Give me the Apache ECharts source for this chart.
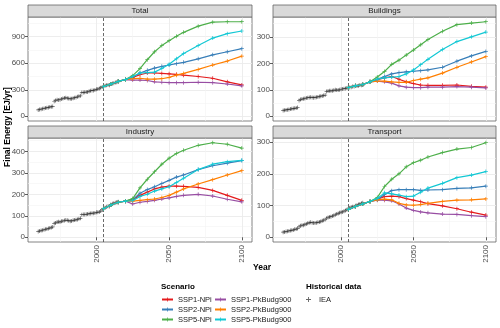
<!DOCTYPE html>
<html>
<head>
<meta charset="utf-8">
<script src="https://cdn.jsdelivr.net/npm/echarts@6/dist/echarts.min.js"></script>
<style>
  html, body { margin: 0; padding: 0; background: #fff; }
  #chart { width: 500px; height: 328px; }
</style>
</head>
<body>
<div id="chart"></div>
<script>
// ---------- data ----------
const scenarioYears = [2005, 2010, 2015, 2020, 2025, 2030, 2035, 2040, 2045, 2050, 2055, 2060, 2070, 2080, 2090, 2100];
const histYears = [1960, 1961, 1962, 1963, 1964, 1965, 1966, 1967, 1968, 1969,
  1970, 1971, 1972, 1973, 1974, 1975, 1976, 1977, 1978, 1979,
  1980, 1981, 1982, 1983, 1984, 1985, 1986, 1987, 1988, 1989,
  1990, 1991, 1992, 1993, 1994, 1995, 1996, 1997, 1998, 1999,
  2000, 2001, 2002, 2003, 2004, 2005, 2006, 2007, 2008, 2009,
  2010, 2011, 2012, 2013, 2014, 2015];

const scenarios = ['SSP1-NPi', 'SSP1-PkBudg900', 'SSP2-NPi', 'SSP2-PkBudg900', 'SSP5-NPi', 'SSP5-PkBudg900'];
const scenarioColors = ['#e41a1c', '#984ea3', '#377eb8', '#ff7f00', '#4daf4a', '#12c8d4'];
const sectors = ['Total', 'Buildings', 'Industry', 'Transport'];

// Total [EJ/yr]
const totalSSP1NPi = [335, 365, 395, 415, 440, 470, 490, 490, 485, 480, 475, 465, 450, 430, 390, 355];
const totalSSP1Pk  = [335, 365, 395, 415, 410, 410, 405, 390, 385, 380, 380, 380, 385, 380, 365, 345];
const totalSSP2NPi = [335, 365, 395, 415, 445, 490, 520, 545, 565, 580, 595, 610, 650, 695, 730, 765];
const totalSSP2Pk  = [335, 365, 395, 415, 425, 430, 420, 420, 425, 440, 465, 485, 530, 580, 625, 680];
const totalSSP5NPi = [335, 365, 395, 415, 460, 540, 640, 730, 800, 855, 905, 950, 1020, 1065, 1070, 1070];
const totalSSP5Pk  = [335, 365, 395, 415, 450, 490, 495, 500, 540, 590, 650, 710, 800, 885, 935, 965];
const totalHist = [72, 76, 80, 85, 89, 93, 97, 100, 104, 108,
  112, 170, 178, 186, 185, 187, 195, 200, 206, 210,
  205, 200, 197, 198, 205, 210, 213, 220, 227, 232,
  268, 270, 272, 274, 276, 283, 290, 292, 293, 298,
  305, 308, 315, 323, 332, 338, 345, 352, 355, 352,
  365, 370, 375, 382, 386, 390];

// Buildings
const bldSSP1NPi = [108, 115, 120, 130, 138, 145, 150, 140, 130, 123, 118, 117, 117, 118, 113, 110];
const bldSSP1Pk  = [108, 115, 120, 130, 133, 130, 125, 115, 110, 108, 108, 110, 110, 112, 110, 107];
const bldSSP2NPi = [108, 115, 120, 130, 140, 150, 160, 165, 168, 170, 172, 175, 185, 208, 228, 245];
const bldSSP2Pk  = [108, 115, 120, 130, 133, 133, 130, 128, 128, 135, 140, 145, 163, 185, 205, 225];
const bldSSP5NPi = [108, 115, 120, 130, 148, 169, 196, 212, 231, 250, 270, 290, 321, 346, 352, 357];
const bldSSP5Pk  = [108, 115, 120, 130, 140, 145, 148, 150, 160, 175, 195, 215, 252, 282, 300, 318];
const bldHist = [22, 23, 24, 25, 26, 27, 28, 29, 30, 31,
  33, 60, 63, 65, 66, 67, 69, 70, 71, 72,
  71, 70, 71, 72, 73, 75, 76, 77, 78, 80,
  94, 95, 96, 96, 96, 98, 100, 99, 99, 100,
  102, 103, 104, 105, 107, 108, 109, 110, 112, 112,
  115, 114, 115, 118, 117, 118];

// Industry
const indSSP1NPi = [133, 150, 163, 168, 175, 195, 210, 225, 233, 238, 238, 237, 232, 218, 195, 172];
const indSSP1Pk  = [133, 150, 163, 168, 155, 163, 167, 172, 178, 183, 190, 195, 200, 192, 177, 165];
const indSSP2NPi = [133, 150, 163, 168, 175, 205, 222, 235, 250, 265, 280, 290, 315, 333, 345, 357];
const indSSP2Pk  = [133, 150, 163, 168, 168, 172, 175, 178, 185, 195, 210, 225, 248, 268, 290, 310];
const indSSP5NPi = [133, 150, 163, 168, 180, 230, 270, 305, 340, 368, 390, 405, 428, 440, 433, 415];
const indSSP5Pk  = [133, 150, 163, 168, 170, 190, 200, 215, 225, 235, 255, 275, 315, 340, 352, 358];
const indHist = [27, 29, 31, 33, 35, 37, 39, 41, 43, 45,
  48, 64, 67, 71, 72, 71, 74, 76, 78, 80,
  79, 77, 75, 76, 79, 80, 81, 83, 86, 88,
  105, 106, 106, 107, 108, 110, 111, 112, 112, 113,
  116, 116, 118, 122, 128, 132, 137, 142, 144, 143,
  152, 156, 158, 161, 163, 165];

// Transport
const traSSP1NPi = [88, 97, 105, 113, 120, 128, 130, 128, 122, 117, 112, 106, 99, 90, 79, 70];
const traSSP1Pk  = [88, 97, 105, 113, 117, 117, 115, 105, 92, 85, 80, 77, 73, 72, 68, 65];
const traSSP2NPi = [88, 97, 105, 113, 118, 135, 147, 150, 150, 150, 148, 149, 150, 154, 156, 161];
const traSSP2Pk  = [88, 97, 105, 113, 118, 120, 118, 107, 102, 101, 103, 107, 113, 117, 118, 121];
const traSSP5NPi = [88, 97, 105, 113, 125, 160, 183, 200, 222, 235, 243, 253, 267, 278, 283, 298];
const traSSP5Pk  = [88, 97, 105, 113, 122, 140, 137, 133, 128, 130, 142, 155, 170, 188, 196, 207];
const traHist = [16, 17, 18, 19, 20, 21, 22, 23, 25, 26,
  28, 33, 36, 38, 38, 40, 42, 44, 46, 47,
  46, 45, 45, 46, 47, 48, 50, 52, 54, 56,
  60, 62, 64, 65, 67, 69, 71, 73, 75, 77,
  79, 80, 82, 84, 87, 89, 92, 95, 96, 96,
  99, 101, 103, 105, 107, 109];

// tick values
const xMajor = [2000, 2050, 2100];
const xMinor = [1975, 2025, 2075];
const totalMajor = [0, 300, 600, 900];
const totalMinor = [150, 450, 750, 1050];
const bldMajor = [0, 100, 200, 300];
const bldMinor = [50, 150, 250, 350];
const indMajor = [0, 100, 200, 300, 400];
const indMinor = [50, 150, 250, 350, 450];
const traMajor = [0, 100, 200, 300];
const traMinor = [50, 150, 250];

const baseYear = 2005;

// ---------- layout ----------
const panels = [
  { name: 'Total', scen: [totalSSP1NPi, totalSSP1Pk, totalSSP2NPi, totalSSP2Pk, totalSSP5NPi, totalSSP5Pk], hist: totalHist, major: totalMajor, minor: totalMinor, left: 28, top: 17, width: 224, bottomRow: false },
  { name: 'Buildings', scen: [bldSSP1NPi, bldSSP1Pk, bldSSP2NPi, bldSSP2Pk, bldSSP5NPi, bldSSP5Pk], hist: bldHist, major: bldMajor, minor: bldMinor, left: 273, top: 17, width: 223, bottomRow: false },
  { name: 'Industry', scen: [indSSP1NPi, indSSP1Pk, indSSP2NPi, indSSP2Pk, indSSP5NPi, indSSP5Pk], hist: indHist, major: indMajor, minor: indMinor, left: 28, top: 138, width: 224, bottomRow: true },
  { name: 'Transport', scen: [traSSP1NPi, traSSP1Pk, traSSP2NPi, traSSP2Pk, traSSP5NPi, traSSP5Pk], hist: traHist, major: traMajor, minor: traMinor, left: 273, top: 138, width: 223, bottomRow: true }
];
const panelH = 104;
const stripH = 12;
const FONT = '"Liberation Sans", Arial, sans-serif';
const plus = 'path://M-0.45,-2.5H0.45V-0.45H2.5V0.45H0.45V2.5H-0.45V0.45H-2.5V-0.45H-0.45Z';
const plain = v => String(v);

const grid = [], xAxis = [], yAxis = [], series = [], graphic = [];

panels.forEach((p, i) => {
  // y range like ggplot: include 0, expand 5%
  const ymax = Math.max(...p.hist, ...p.scen.flat());
  const pad = ymax * 0.05;

  grid.push({
    left: p.left, top: p.top, width: p.width, height: panelH,
    show: true, borderColor: '#666', borderWidth: 0.8, backgroundColor: '#fff'
  });

  // main x axis
  xAxis.push({
    type: 'value', gridIndex: i, min: 1953, max: 2107,
    axisLine: { show: false },
    axisTick: { show: p.bottomRow, customValues: xMajor, length: 3, lineStyle: { color: '#333', width: 0.8 } },
    axisLabel: { show: p.bottomRow, customValues: xMajor, formatter: plain, rotate: 90, fontSize: 8, color: '#4d4d4d', margin: 3, fontFamily: FONT },
    splitLine: { show: true, lineStyle: { color: '#ebebeb', width: 0.9 } }
  });
  // minor x grid
  xAxis.push({
    type: 'value', gridIndex: i, min: 1953, max: 2107,
    axisLine: { show: false },
    axisTick: { show: false, customValues: xMinor },
    axisLabel: { show: false, customValues: xMinor },
    splitLine: { show: true, lineStyle: { color: '#f3f3f3', width: 0.6 } }
  });
  yAxis.push({
    type: 'value', gridIndex: i, min: -pad, max: ymax + pad,
    axisLine: { show: false },
    axisTick: { show: true, customValues: p.major, length: 3, lineStyle: { color: '#333', width: 0.8 } },
    axisLabel: { customValues: p.major, formatter: plain, fontSize: 8, color: '#4d4d4d', margin: 3, fontFamily: FONT },
    splitLine: { show: true, lineStyle: { color: '#ebebeb', width: 0.9 } }
  });
  yAxis.push({
    type: 'value', gridIndex: i, min: -pad, max: ymax + pad,
    axisLine: { show: false },
    axisTick: { show: false, customValues: p.minor },
    axisLabel: { show: false, customValues: p.minor },
    splitLine: { show: true, lineStyle: { color: '#f3f3f3', width: 0.6 } }
  });

  // historical data
  series.push({
    name: 'IEA', type: 'scatter', xAxisIndex: 2 * i, yAxisIndex: 2 * i,
    data: histYears.map((y, k) => [y, p.hist[k]]),
    symbol: plus, symbolSize: 4,
    itemStyle: { color: '#222', opacity: 0.7 },
    markLine: {
      silent: true, symbol: ['none', 'none'], label: { show: false },
      lineStyle: { type: [3, 2], color: '#444', width: 0.8 },
      data: [{ xAxis: baseYear }]
    },
    z: 2
  });

  p.scen.forEach((vals, s) => {
    series.push({
      name: scenarios[s], type: 'line', xAxisIndex: 2 * i, yAxisIndex: 2 * i,
      data: scenarioYears.map((y, k) => [y, vals[k]]),
      symbol: plus, symbolSize: 4, showSymbol: true,
      lineStyle: { width: 1.2, color: scenarioColors[s] },
      itemStyle: { color: scenarioColors[s] },
      z: 3 + s
    });
  });

  // facet strip
  graphic.push({
    type: 'rect', z: 10,
    shape: { x: p.left, y: p.top - stripH, width: p.width, height: stripH },
    style: { fill: '#d9d9d9', stroke: '#666', lineWidth: 0.8 }
  });
  graphic.push({
    type: 'text', z: 11, x: p.left + p.width / 2, y: p.top - stripH / 2,
    style: { text: p.name, fill: '#1a1a1a', font: '8px ' + FONT, textAlign: 'center', textVerticalAlign: 'middle', verticalAlign: 'middle' }
  });
});

// axis titles and legend titles
graphic.push({
  type: 'text', x: 8, y: 127, rotation: Math.PI / 2,
  style: { text: 'Final Energy [EJ/yr]', fill: '#000', font: 'bold 8.5px ' + FONT, textAlign: 'center', textVerticalAlign: 'middle', verticalAlign: 'middle' }
});
graphic.push({
  type: 'text', x: 262, y: 268,
  style: { text: 'Year', fill: '#000', font: 'bold 8.5px ' + FONT, textAlign: 'center', textVerticalAlign: 'middle', verticalAlign: 'middle' }
});
graphic.push({
  type: 'text', x: 161, y: 287,
  style: { text: 'Scenario', fill: '#000', font: 'bold 8px ' + FONT, textAlign: 'left', textVerticalAlign: 'middle', verticalAlign: 'middle' }
});
graphic.push({
  type: 'text', x: 306, y: 287,
  style: { text: 'Historical data', fill: '#000', font: 'bold 8px ' + FONT, textAlign: 'left', textVerticalAlign: 'middle', verticalAlign: 'middle' }
});

const legendBase = {
  orient: 'vertical', top: 295, height: 34, itemWidth: 11, itemHeight: 5, itemGap: 1,
  padding: 0,
  textStyle: { fontSize: 7.5, lineHeight: 9, color: '#1a1a1a', fontFamily: FONT },
  selectedMode: false
};

const chart = echarts.init(document.getElementById('chart'));
chart.setOption({
  animation: false,
  backgroundColor: '#fff',
  textStyle: { fontFamily: FONT },
  grid, xAxis, yAxis, series, graphic,
  legend: [
    Object.assign({}, legendBase, { left: 161, data: ['SSP1-NPi', 'SSP2-NPi', 'SSP5-NPi'] }),
    Object.assign({}, legendBase, { left: 214, data: ['SSP1-PkBudg900', 'SSP2-PkBudg900', 'SSP5-PkBudg900'] }),
    Object.assign({}, legendBase, { left: 306, data: ['IEA'] })
  ]
});
</script>
</body>
</html>
